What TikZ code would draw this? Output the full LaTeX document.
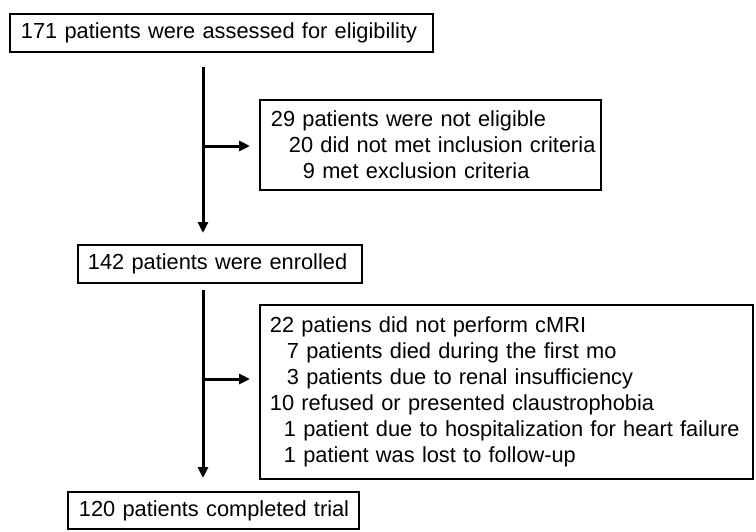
\documentclass[tikz,border=0pt]{standalone}
\usepackage{fontspec}
\setmainfont{Liberation Sans}
\usetikzlibrary{arrows.meta,calc}
\newcommand{\boxline}[2][0pt]{\mbox{\hspace*{#1}#2}}
\begin{document}
\begin{tikzpicture}[x=1pt,y=-1pt,
  box/.style={draw, line width=1.8pt, anchor=north west, align=left,
    inner ysep=0pt, font=\fontsize{21.8}{26}\selectfont},
  flow/.style={line width=3pt, -{Triangle[length=11pt,width=10pt]}}]
\useasboundingbox (0,0) rectangle (756,531);
\node[box, inner xsep=11pt, text width=401pt, minimum height=38pt] (b171) at (9,13)
  {\boxline{171 patients were assessed for eligibility}};
\node[box, inner xsep=11pt, text width=319pt, minimum height=90pt] (b29) at (259,99)
  {\boxline{29 patients were not eligible}\\
   \boxline[18pt]{20 did not met inclusion criteria}\\
   \boxline[32pt]{9 met exclusion criteria}};
\node[box, inner xsep=10pt, text width=264pt, minimum height=38pt] (b142) at (77,244)
  {\boxline{142 patients were enrolled}};
\node[box, inner xsep=10pt, text width=473pt, minimum height=174pt] (b22) at (259,304)
  {\boxline{22 patiens did not perform cMRI}\\
   \boxline[17pt]{7 patients died during the first mo}\\
   \boxline[17pt]{3 patients due to renal insufficiency}\\
   \boxline{10 refused or presented claustrophobia}\\
   \boxline[14pt]{1 patient due to hospitalization for heart failure}\\
   \boxline[14pt]{1 patient was lost to follow-up}};
\node[box, inner xsep=11pt, text width=269pt, minimum height=37pt] (b120) at (67,491)
  {\boxline{120 patients completed trial}};
\coordinate (s1) at (203,67);
\coordinate (j1) at (203,146);
\coordinate (s2) at (203,290);
\coordinate (j2) at (203,379);
\draw[flow, shorten >=11pt] (s1) -- (s1 |- b142.north);
\draw[flow, shorten >=9pt] (j1) -- (j1 -| b29.west);
\draw[flow, shorten >=13pt] (s2) -- (s2 |- b120.north);
\draw[flow, shorten >=9pt] (j2) -- (j2 -| b22.west);
\end{tikzpicture}
\end{document}
